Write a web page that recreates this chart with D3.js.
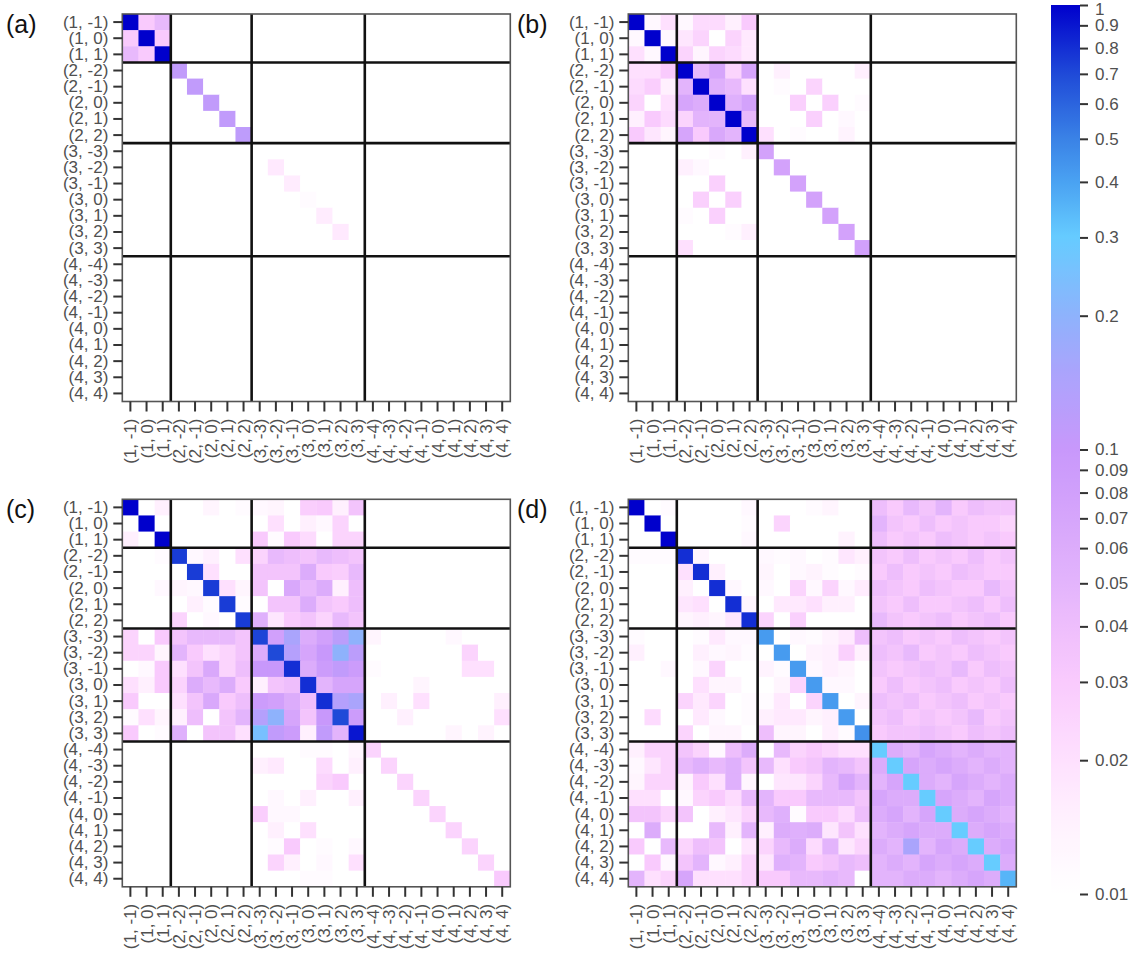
<!DOCTYPE html>
<html>
<head>
<meta charset="utf-8">
<script src="https://cdn.jsdelivr.net/npm/d3@7"></script>
<style>
  body { margin: 0; background: #fff; }
  text { font-family: "Liberation Sans", Arial, sans-serif; }
</style>
</head>
<body>
<svg id="chart" width="1137" height="955"></svg>
<script>
// (l, m) basis states, l = 1..4, m = -l..l
const states = [
  "(1, -1)", "(1, 0)", "(1, 1)",
  "(2, -2)", "(2, -1)", "(2, 0)", "(2, 1)", "(2, 2)",
  "(3, -3)", "(3, -2)", "(3, -1)", "(3, 0)", "(3, 1)", "(3, 2)", "(3, 3)",
  "(4, -4)", "(4, -3)", "(4, -2)", "(4, -1)", "(4, 0)", "(4, 1)", "(4, 2)", "(4, 3)", "(4, 4)"
];
// index where each new l-block starts (block separators)
const blockStarts = [3, 8, 15];

const panelNames = ["(a)", "(b)", "(c)", "(d)"];

// colour bar ticks
const barTicks = [1, 0.9, 0.8, 0.7, 0.6, 0.5, 0.4, 0.3, 0.2, 0.1,
                  0.09, 0.08, 0.07, 0.06, 0.05, 0.04, 0.03, 0.02, 0.01];

// colour map anchors (value -> colour)
const cmapValues = [0.01, 0.015, 0.02, 0.03, 0.04, 0.05, 0.07, 0.1, 0.15, 0.2, 0.3, 0.4, 0.5, 0.7, 1];
const cmapColors = ["#ffffff", "#fff0fe", "#fee0fe", "#f9cafd", "#eebefc", "#e3b4fc", "#d6a5fb",
                    "#c898fb", "#aaa4fc", "#8eb2fc", "#66ccff", "#4aa2f2", "#3a82e6", "#1f4ad8", "#0000cc"];

// panel (a)
const matrixA = [
  [1,.03,.045, 0,0,0,0,0, 0,0,0,0,0,0,0, 0,0,0,0,0,0,0,0,0],
  [.03,1,.03, 0,0,0,0,0, 0,0,0,0,0,0,0, 0,0,0,0,0,0,0,0,0],
  [.045,.03,1, 0,0,0,0,0, 0,0,0,0,0,0,0, 0,0,0,0,0,0,0,0,0],
  [0,0,0, .11,0,0,0,0, 0,0,0,0,0,0,0, 0,0,0,0,0,0,0,0,0],
  [0,0,0, 0,.11,0,0,0, 0,0,0,0,0,0,0, 0,0,0,0,0,0,0,0,0],
  [0,0,0, 0,0,.11,0,0, 0,0,0,0,0,0,0, 0,0,0,0,0,0,0,0,0],
  [0,0,0, 0,0,0,.11,0, 0,0,0,0,0,0,0, 0,0,0,0,0,0,0,0,0],
  [0,0,0, 0,0,0,0,.115, 0,0,0,0,0,0,0, 0,0,0,0,0,0,0,0,0],
  [0,0,0, 0,0,0,0,0, 0,0,0,0,0,0,0, 0,0,0,0,0,0,0,0,0],
  [0,0,0, 0,0,0,0,0, 0,.017,0,0,0,0,0, 0,0,0,0,0,0,0,0,0],
  [0,0,0, 0,0,0,0,0, 0,0,.016,0,0,0,0, 0,0,0,0,0,0,0,0,0],
  [0,0,0, 0,0,0,0,0, 0,0,0,.011,0,0,0, 0,0,0,0,0,0,0,0,0],
  [0,0,0, 0,0,0,0,0, 0,0,0,0,.016,0,0, 0,0,0,0,0,0,0,0,0],
  [0,0,0, 0,0,0,0,0, 0,0,0,0,0,.017,0, 0,0,0,0,0,0,0,0,0],
  [0,0,0, 0,0,0,0,0, 0,0,0,0,0,0,0, 0,0,0,0,0,0,0,0,0],
  [0,0,0, 0,0,0,0,0, 0,0,0,0,0,0,0, 0,0,0,0,0,0,0,0,0],
  [0,0,0, 0,0,0,0,0, 0,0,0,0,0,0,0, 0,0,0,0,0,0,0,0,0],
  [0,0,0, 0,0,0,0,0, 0,0,0,0,0,0,0, 0,0,0,0,0,0,0,0,0],
  [0,0,0, 0,0,0,0,0, 0,0,0,0,0,0,0, 0,0,0,0,0,0,0,0,0],
  [0,0,0, 0,0,0,0,0, 0,0,0,0,0,0,0, 0,0,0,0,0,0,0,0,0],
  [0,0,0, 0,0,0,0,0, 0,0,0,0,0,0,0, 0,0,0,0,0,0,0,0,0],
  [0,0,0, 0,0,0,0,0, 0,0,0,0,0,0,0, 0,0,0,0,0,0,0,0,0],
  [0,0,0, 0,0,0,0,0, 0,0,0,0,0,0,0, 0,0,0,0,0,0,0,0,0],
  [0,0,0, 0,0,0,0,0, 0,0,0,0,0,0,0, 0,0,0,0,0,0,0,0,0]
];

// panel (b)
const matrixB = [
  [1,.012,.02, .012,.022,.022,.015,.03, 0,0,0,0,0,0,0, 0,0,0,0,0,0,0,0,0],
  [.012,1,.012, .018,.025,0,.025,.017, 0,0,0,0,0,0,0, 0,0,0,0,0,0,0,0,0],
  [.02,.012,1, .025,.013,.025,.022,.017, 0,0,0,0,0,0,0, 0,0,0,0,0,0,0,0,0],
  [.02,.02,.03, 1,.045,.07,.025,.07, 0,.015,0,0,0,0,.015, 0,0,0,0,0,0,0,0,0],
  [.022,.028,.015, .05,1,.055,.045,.02, 0,.011,0,.025,0,0,0, 0,0,0,0,0,0,0,0,0],
  [.025,0,.02, .07,.06,1,.055,.075, 0,0,.027,0,.027,0,.011, 0,0,0,0,0,0,0,0,0],
  [.015,.03,.022, .025,.05,.05,1,.045, 0,0,0,.027,0,.012,0, 0,0,0,0,0,0,0,0,0],
  [.03,.018,.013, .07,.03,.065,.05,1, .02,0,.011,0,0,.014,0, 0,0,0,0,0,0,0,0,0],
  [0,0,0, 0,0,.011,0,.015, .075,0,0,0,0,0,0, 0,0,0,0,0,0,0,0,0],
  [0,0,0, .015,.012,0,0,0, 0,.075,0,0,0,0,0, 0,0,0,0,0,0,0,0,0],
  [0,0,0, 0,0,.027,0,0, 0,0,.075,0,0,0,0, 0,0,0,0,0,0,0,0,0],
  [0,0,0, 0,.027,0,.027,0, 0,0,0,.075,0,0,0, 0,0,0,0,0,0,0,0,0],
  [0,0,0, .011,0,.027,0,0, 0,0,0,0,.075,0,0, 0,0,0,0,0,0,0,0,0],
  [0,0,0, 0,0,0,.011,.015, 0,0,0,0,0,.075,0, 0,0,0,0,0,0,0,0,0],
  [0,0,0, .02,0,0,0,0, 0,0,0,0,0,0,.08, 0,0,0,0,0,0,0,0,0],
  [0,0,0, 0,0,0,0,0, 0,0,0,0,0,0,0, 0,0,0,0,0,0,0,0,0],
  [0,0,0, 0,0,0,0,0, 0,0,0,0,0,0,0, 0,0,0,0,0,0,0,0,0],
  [0,0,0, 0,0,0,0,0, 0,0,0,0,0,0,0, 0,0,0,0,0,0,0,0,0],
  [0,0,0, 0,0,0,0,0, 0,0,0,0,0,0,0, 0,0,0,0,0,0,0,0,0],
  [0,0,0, 0,0,0,0,0, 0,0,0,0,0,0,0, 0,0,0,0,0,0,0,0,0],
  [0,0,0, 0,0,0,0,0, 0,0,0,0,0,0,0, 0,0,0,0,0,0,0,0,0],
  [0,0,0, 0,0,0,0,0, 0,0,0,0,0,0,0, 0,0,0,0,0,0,0,0,0],
  [0,0,0, 0,0,0,0,0, 0,0,0,0,0,0,0, 0,0,0,0,0,0,0,0,0],
  [0,0,0, 0,0,0,0,0, 0,0,0,0,0,0,0, 0,0,0,0,0,0,0,0,0]
];

// panel (c)
const matrixC = [
  [1,0,.015, 0,0,.013,0,.011, .012,.013,0,.028,.03,.015,.035, 0,0,0,0,0,0,0,0,0],
  [0,1,0, 0,0,0,0,0, 0,.02,0,.015,.012,.025,0, 0,0,0,0,0,0,0,0,0],
  [.015,0,1, 0,0,0,0,0, .03,.011,.03,.022,0,.025,.025, 0,0,0,0,0,0,0,0,0],
  [0,0,.011, .75,.012,.015,0,.02, .025,.045,.04,.035,.045,.04,.035, 0,0,0,0,0,0,0,0,0],
  [0,0,0, 0,.75,.02,0,0, .035,.035,.035,.06,.03,.028,.045, 0,0,0,0,0,0,0,0,0],
  [0,0,.012, .013,.012,.75,.02,.013, .035,0,.065,.045,.06,.015,.04, 0,0,0,0,0,0,0,0,0],
  [0,0,0, 0,.015,.011,.75,.011, 0,.035,.035,.06,.035,.03,.04, 0,0,0,0,0,0,0,0,0],
  [0,0,0, .025,0,.012,0,.75, .055,.018,.03,.035,.025,.045,.035, 0,0,0,0,0,0,0,0,0],
  [.025,0,.03, .035,.045,.045,.045,.035, .72,.08,.15,.06,.08,.12,.2, .013,0,0,0,0,.012,0,0,0],
  [.025,.025,.013, .05,.03,.02,.025,.035, .06,.7,.13,.07,.1,.2,.12, 0,0,0,0,0,0,.025,0,0],
  [0,.012,.03, .02,.035,.065,.025,.04, .1,.1,.8,.06,.09,.11,.09, .011,0,0,0,0,0,.02,.02,0],
  [.02,.015,.03, .025,.06,.045,.06,.03, .015,.035,.04,.8,.05,.07,.07, 0,0,0,.013,0,0,0,0,0],
  [.03,0,0, .02,.035,.065,.03,.04, .09,.08,.06,.04,.8,.13,.15, 0,.015,0,.02,0,0,0,0,.015],
  [.011,.02,.013, .015,.04,0,.035,.05, .13,.2,.07,.035,.1,.7,.09, 0,0,.015,0,0,0,0,0,.02],
  [.03,0,.011, .055,0,.035,.035,.02, .25,.11,.09,.015,.11,.05,.9, 0,0,0,0,0,.013,0,.014,0],
  [0,0,0, 0,0,0,0,0, 0,0,0,.011,.011,0,.013, .025,0,0,0,0,0,0,0,0],
  [0,0,0, 0,0,0,.01,0, .015,.017,0,0,.022,0,.015, 0,.025,0,0,0,0,0,0,0],
  [0,0,0, 0,0,0,0,0, 0,0,0,0,.025,.03,0, 0,0,.025,0,0,0,0,0,0],
  [0,0,0, 0,0,0,0,0, 0,.012,0,.015,0,0,.015, 0,0,0,.025,0,0,0,0,0],
  [0,0,0, 0,0,0,0,0, .028,.012,.012,0,0,0,0, 0,0,0,0,.025,0,0,0,0],
  [0,0,0, 0,0,0,0,0, 0,.015,0,.02,0,0,0, 0,0,0,0,0,.025,0,0,0],
  [0,0,0, 0,0,0,0,0, 0,.011,.03,0,.011,0,.012, 0,0,0,0,0,0,.025,0,0],
  [0,0,0, 0,0,0,0,0, 0,.025,.015,0,.012,0,.02, 0,0,0,0,0,0,0,.025,0],
  [0,0,0, .01,0,0,0,0, 0,0,0,.011,.011,0,0, 0,0,0,0,0,0,0,0,.03]
];

// panel (d)
const matrixD = [
  [1,0,.011, 0,0,0,0,.012, 0,0,0,.011,.013,0,0, .04,.03,.045,.035,.05,.03,.04,.035,.035],
  [0,1,0, 0,0,0,0,.011, 0,.025,0,0,0,0,0, .05,.035,.03,.04,.03,.035,.03,.03,.025],
  [0,0,1, 0,0,0,0,.012, 0,0,0,0,0,.014,0, .04,.03,.035,.03,.04,.035,.03,.035,.03],
  [.011,.011,.011, .8,.013,0,0,0, .012,.011,.012,0,.011,.018,.015, .035,.03,.04,.03,.035,.03,.04,.03,.035],
  [.01,0,0, .02,.8,.015,0,0, .013,0,.012,.014,.011,0,.011, .03,.04,.03,.035,.03,.04,.035,.03,.03],
  [0,0,0, .015,0,.8,.012,0, .012,.01,.025,.012,.025,.012,.016, .04,.035,.03,.04,.035,.03,.03,.045,.035],
  [0,0,0, .018,.02,0,.8,.013, 0,.017,.017,.02,.015,.015,0, .035,.03,.04,.03,.03,.035,.04,.03,.04],
  [0,0,0, .013,.015,.013,.018,.8, .025,0,.027,0,0,0,0, .045,.035,.03,.035,.04,.03,.035,.04,.03],
  [.011,0,0, 0,.011,.017,.012,.012, .42,0,.012,.011,.014,.017,.04, .035,.04,.03,.035,.03,.04,.035,.03,.035],
  [.015,0,0, 0,.015,.012,.013,.011, 0,.42,0,.014,.015,.027,.015, .04,.035,.045,.03,.035,.03,.04,.035,.03],
  [0,.01,.012, 0,.012,.025,0,0, .014,.011,.42,.012,.015,.013,0, .035,.03,.035,.04,.035,.045,.03,.04,.035],
  [0,0,.01, 0,.02,.013,.013,0, 0,.013,.025,.42,.012,.012,.01, .03,.04,.03,.035,.04,.03,.035,.03,.04],
  [0,0,0, .025,.017,.025,0,.011, .011,.017,0,.025,.42,0,.013, .04,.035,.04,.03,.035,.04,.03,.035,.03],
  [0,.022,0, 0,.017,.012,0,.011, .015,.017,.017,.013,.015,.42,0, .035,.04,.03,.035,.03,.035,.045,.03,.035],
  [0,0,0, .025,0,.013,.013,0, .04,.013,.013,0,.015,.011,.45, .03,.035,.035,.04,.035,.03,.04,.035,.04],
  [.015,.025,.025, .035,.025,.012,.04,.06, 0,.045,.025,.03,.025,.02,.02, .3,.06,.05,.07,.06,.05,.06,.05,.05],
  [.012,.018,.025, .045,.055,.045,.055,.035, .045,.02,.03,.035,.05,.045,.035, .06,.3,.07,.06,.07,.06,.05,.06,.05],
  [.013,.025,.025, .014,.03,.02,.055,.013, 0,.018,.018,.025,.045,.07,.05, .05,.07,.3,.06,.05,.07,.06,.05,.06],
  [.02,.02,0, .012,.025,.03,.022,.045, .05,.03,.03,.045,.045,.045,.035, .07,.06,.06,.3,.07,.06,.05,.07,.06],
  [.035,.035,.025, .035,0,.015,.018,.025, .045,.055,.011,.03,.03,.022,.04, .06,.07,.05,.07,.3,.06,.07,.06,.05],
  [0,.06,0, 0,0,.045,.015,.05, .015,.06,.055,.06,.018,.035,.02, .05,.06,.07,.06,.06,.3,.06,.07,.06],
  [.03,0,.045, .025,.04,.035,0,.018, .025,.045,.06,.022,.05,.018,.025, .06,.05,.15,.05,.07,.06,.3,.06,.07],
  [0,.03,.012, .035,.05,.012,.015,.025, .018,.055,.05,.03,.035,.045,.04, .05,.06,.05,.07,.06,.07,.06,.3,.06],
  [.05,.02,.025, .07,.02,.02,.02,.025, .03,.03,.045,.045,.05,.045,0, .05,.05,.06,.06,.05,.06,.07,.06,.35]
];

const matrices = [matrixA, matrixB, matrixC, matrixD];

// ---------- drawing ----------
const svg = d3.select("#chart");

const color = d3.scaleLog()
  .domain(cmapValues)
  .range(cmapColors)
  .interpolate(d3.interpolateRgb)
  .clamp(true);
const fillFor = v => (v > 0.01 ? color(v) : "#ffffff");

const panelW = 388, panelH = 387.5;
const origins = [[122.3, 14], [628.3, 14], [122.3, 499.3], [628.3, 499.3]];
const labelPos = [[6, 33], [517, 33], [6, 518], [517, 518]];
const textGray = "#505050";

matrices.forEach((mat, p) => {
  const [x0, y0] = origins[p];
  const x = d3.scaleBand().domain(states).range([x0, x0 + panelW]);
  const y = d3.scaleBand().domain(states).range([y0, y0 + panelH]);

  const g = svg.append("g");

  // cells
  const cells = [];
  mat.forEach((row, i) => row.forEach((v, j) => cells.push({ r: states[i], c: states[j], v })));
  g.selectAll("rect.cell").data(cells).join("rect")
    .attr("class", "cell")
    .attr("x", d => x(d.c))
    .attr("y", d => y(d.r))
    .attr("width", x.bandwidth() + 0.4)
    .attr("height", y.bandwidth() + 0.4)
    .attr("fill", d => fillFor(d.v));

  // block separators
  blockStarts.forEach(k => {
    const bx = x(states[k]), by = y(states[k]);
    g.append("line").attr("x1", bx).attr("x2", bx).attr("y1", y0).attr("y2", y0 + panelH)
      .attr("stroke", "#111").attr("stroke-width", 2.6);
    g.append("line").attr("x1", x0).attr("x2", x0 + panelW).attr("y1", by).attr("y2", by)
      .attr("stroke", "#111").attr("stroke-width", 2.6);
  });

  // frame
  g.append("rect").attr("x", x0).attr("y", y0).attr("width", panelW).attr("height", panelH)
    .attr("fill", "none").attr("stroke", "#555").attr("stroke-width", 1.6);

  // y axis
  const ya = g.append("g").attr("transform", `translate(${x0},0)`)
    .call(d3.axisLeft(y).tickSize(9).tickPadding(5));
  ya.select(".domain").remove();
  ya.selectAll(".tick line").attr("stroke", "#333").attr("stroke-width", 2);
  ya.selectAll(".tick text").attr("font-size", 17).attr("fill", textGray)
    .attr("font-family", "'Liberation Sans', Arial, sans-serif");

  // x axis
  const xa = g.append("g").attr("transform", `translate(0,${y0 + panelH})`)
    .call(d3.axisBottom(x).tickSize(10).tickPadding(5));
  xa.select(".domain").remove();
  xa.selectAll(".tick line").attr("stroke", "#333").attr("stroke-width", 2);
  xa.selectAll(".tick text")
    .attr("font-size", 17).attr("fill", textGray)
    .attr("font-family", "'Liberation Sans', Arial, sans-serif")
    .attr("transform", "rotate(-90)")
    .attr("text-anchor", "end")
    .attr("x", -17).attr("y", 0).attr("dy", "0.35em");

  // panel label
  svg.append("text").attr("x", labelPos[p][0]).attr("y", labelPos[p][1])
    .attr("font-size", 25).attr("fill", "#111").text(panelNames[p]);
});

// ---------- colour bar ----------
const barX = 1051, barW = 29, barTop = 5, barBottom = 894;
const barScale = d3.scaleLog().domain([0.01, 1]).range([barBottom, barTop]);

const defs = svg.append("defs");
const grad = defs.append("linearGradient").attr("id", "cbar")
  .attr("x1", 0).attr("y1", 1).attr("x2", 0).attr("y2", 0);
d3.range(0, 101).forEach(k => {
  const v = Math.pow(10, -2 + 2 * k / 100);
  grad.append("stop").attr("offset", `${k}%`).attr("stop-color", color(v));
});
svg.append("rect").attr("x", barX).attr("y", barTop).attr("width", barW)
  .attr("height", barBottom - barTop).attr("fill", "url(#cbar)");

const ba = svg.append("g").attr("transform", `translate(${barX + barW},0)`)
  .call(d3.axisRight(barScale).tickValues(barTicks).tickFormat(d3.format("~g")).tickSize(8).tickPadding(7));
ba.select(".domain").remove();
ba.selectAll(".tick line").attr("stroke", "#333").attr("stroke-width", 2);
ba.selectAll(".tick text").attr("font-size", 17).attr("fill", textGray)
  .attr("font-family", "'Liberation Sans', Arial, sans-serif");
// keep the top label inside the page
ba.selectAll(".tick text").filter(d => d === 1).attr("dy", "0.55em");
</script>
</body>
</html>
